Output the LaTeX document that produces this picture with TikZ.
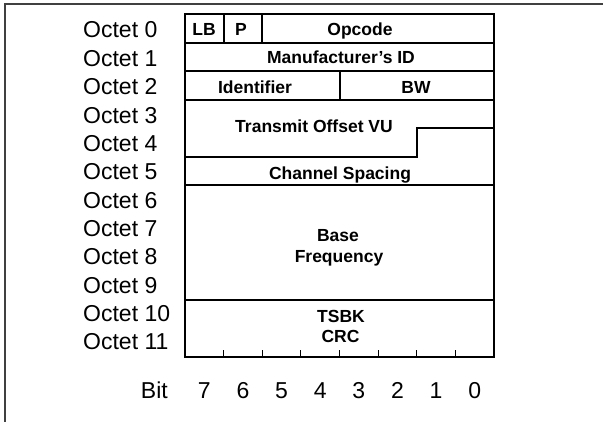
\documentclass[tikz,border=0pt]{standalone}
\usepackage{fontspec}
\setmainfont{Liberation Sans}
\begin{document}
\begin{tikzpicture}[x=1pt,y=-1pt,
  lbl/.style={inner sep=0pt,anchor=base,font=\fontsize{23}{26}\selectfont},
  fld/.style={inner sep=0pt,anchor=base,font=\fontsize{17.5}{20}\bfseries\selectfont},
  tbl/.style={line width=2pt,black},
  tick/.style={line width=1pt,black}]
\useasboundingbox (0,0) rectangle (603,422);
\clip (0,0) rectangle (603,422);
\fill[white] (0,0) rectangle (603,422);
% outer frame
\draw[line width=2.2pt,black!75] (5,4) rectangle (640,460);
% table geometry
\def\L{185}\def\R{494}
\pgfmathsetmacro\h{28.56}
\pgfmathsetmacro\w{38.625}
\coordinate (tl) at (\L,14);
\coordinate (br) at (\R,356.72);
\draw[tbl] (tl) rectangle (br);
\foreach \k in {1,2,3,6,10}{
  \draw[tbl] (\L,{14+\k*\h}) -- (\R,{14+\k*\h});
}
% step line between Transmit Offset VU and Channel Spacing
\coordinate (s1) at (\L,{14+5*\h});
\coordinate (s2) at ({\L+6*\w},{14+5*\h});
\coordinate (s3) at ({\L+6*\w},{14+4*\h});
\coordinate (s4) at (\R,{14+4*\h});
\draw[tbl] (s1) -- (s2) -- (s3) -- (s4);
% vertical dividers
\draw[tbl] ({\L+\w},14) -- ({\L+\w},{14+\h});
\draw[tbl] ({\L+2*\w},14) -- ({\L+2*\w},{14+\h});
\draw[tbl] ({\L+4*\w},{14+2*\h}) -- ({\L+4*\w},{14+3*\h});
% ticks
\foreach \k in {1,...,7}{
  \draw[tick] ({\L+\k*\w},356.72) -- ({\L+\k*\w},350);
}
% field labels
\node[fld] (lb) at (204,36) {LB};
\node[fld] (p) at (241,36) {P};
\node[fld] (opc) at (360,35.5) {Opcode};
\node[fld] (man) at (341,63.5) {Manufacturer’s ID};
\node[fld] (ident) at (255,93.5) {Identifier};
\node[fld] (bw) at (416,93.5) {BW};
\node[fld] (tov) at (314,133) {Transmit Offset VU};
\node[fld] (chs) at (340,180) {Channel Spacing};
\node[fld] (base) at (338,241.5) {Base};
\node[fld] (freq) at (339,263) {Frequency};
\node[fld] (tsbk) at (341,322.5) {TSBK};
\node[fld] (crc) at (340.5,343) {CRC};
% octet labels
\foreach \k in {0,...,11}{
  \node[lbl,anchor=base west] (oct\k) at (83,{38+\k*28.36}) {Octet \k};
}
% bit labels
\node[lbl,anchor=base east] (bit) at (168,398) {Bit};
\foreach \b [count=\i from 0] in {7,6,5,4,3,2,1,0}{
  \node[lbl] (b\b) at ({\L+(\i+0.5)*\w},398) {\b};
}
\end{tikzpicture}
\end{document}
